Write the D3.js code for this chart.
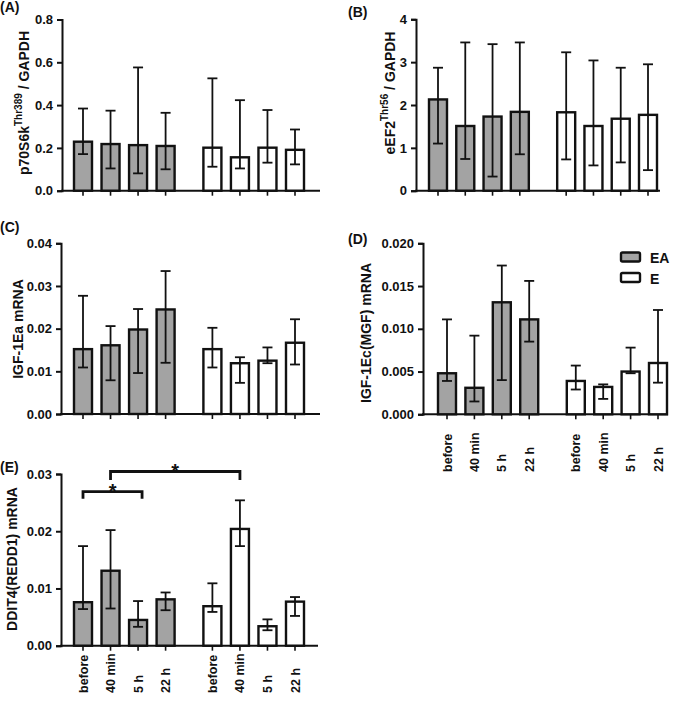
<!DOCTYPE html>
<html>
<head>
<meta charset="utf-8">
<script src="https://cdn.jsdelivr.net/npm/d3@7/dist/d3.min.js"></script>
<style>
  body { margin: 0; background: #fff; }
  svg { display: block; }
  text { font-family: "Liberation Sans", Arial, sans-serif; font-weight: bold; fill: #111; }
</style>
</head>
<body>
<svg id="chart" width="685" height="703"></svg>
<script>
// ---------------- DATA ----------------
const timepoints = ["before", "40 min", "5 h", "22 h"];
const groups = ["EA", "E"];

// Panel A: p70S6k Thr389 / GAPDH
const A_EA_mean = [0.229, 0.218, 0.213, 0.209];
const A_EA_lo   = [0.171, 0.104, 0.081, 0.100];
const A_EA_hi   = [0.384, 0.374, 0.576, 0.364];
const A_E_mean  = [0.201, 0.156, 0.201, 0.191];
const A_E_lo    = [0.112, 0.104, 0.131, 0.123];
const A_E_hi    = [0.525, 0.423, 0.377, 0.286];
const A_ticks   = [0, 0.2, 0.4, 0.6, 0.8];

// Panel B: eEF2 Thr56 / GAPDH
const B_EA_mean = [2.13, 1.51, 1.73, 1.84];
const B_EA_lo   = [1.10, 0.74, 0.33, 0.85];
const B_EA_hi   = [2.87, 3.46, 3.42, 3.46];
const B_E_mean  = [1.83, 1.51, 1.68, 1.77];
const B_E_lo    = [0.73, 0.59, 0.66, 0.48];
const B_E_hi    = [3.23, 3.04, 2.87, 2.95];
const B_ticks   = [0, 1, 2, 3, 4];

// Panel C: IGF-1Ea mRNA
const C_EA_mean = [0.0152, 0.0161, 0.0198, 0.0245];
const C_EA_lo   = [0.0109, 0.0079, 0.0096, 0.0120];
const C_EA_hi   = [0.0277, 0.0206, 0.0246, 0.0335];
const C_E_mean  = [0.0152, 0.0119, 0.0125, 0.0167];
const C_E_lo    = [0.0109, 0.0073, 0.0119, 0.0116];
const C_E_hi    = [0.0202, 0.0133, 0.0156, 0.0222];
const C_ticks   = [0, 0.01, 0.02, 0.03, 0.04];

// Panel D: IGF-1Ec(MGF) mRNA
const D_EA_mean = [0.0048, 0.0031, 0.0131, 0.0111];
const D_EA_lo   = [0.0039, 0.0015, 0.0040, 0.0085];
const D_EA_hi   = [0.0111, 0.0092, 0.0174, 0.0156];
const D_E_mean  = [0.0039, 0.0032, 0.0050, 0.0060];
const D_E_lo    = [0.0029, 0.0018, 0.0048, 0.0037];
const D_E_hi    = [0.0057, 0.0035, 0.0078, 0.0122];
const D_ticks   = [0, 0.005, 0.010, 0.015, 0.020];

// Panel E: DDIT4(REDD1) mRNA
const E_EA_mean = [0.0076, 0.0131, 0.0045, 0.0081];
const E_EA_lo   = [0.0064, 0.0065, 0.0033, 0.0062];
const E_EA_hi   = [0.0174, 0.0202, 0.0078, 0.0093];
const E_E_mean  = [0.0069, 0.0204, 0.0034, 0.0077];
const E_E_lo    = [0.0059, 0.0174, 0.0027, 0.0052];
const E_E_hi    = [0.0109, 0.0254, 0.0046, 0.0085];
const E_ticks   = [0, 0.01, 0.02, 0.03];

// significance brackets in panel E: [group, index] pairs
const E_sig = [
  { from: ["EA", 0], to: ["EA", 2], label: "*" },
  { from: ["EA", 1], to: ["E", 1], label: "*" }
];

// ---------------- LAYOUT ----------------
const svg = d3.select("#chart");
const GRAY = "#a3a3a3";
const slotPos = { EA: [0, 1, 2, 3], E: [4.7, 5.7, 6.7, 7.7] };

const panels = [
  { id: "(A)", letter: [0, 12], axisX: 62, yTop: 19.5, yBot: 190.7, x0: 83, x1: 295, xEnd: 320,
    domain: [0, 0.8], ticks: A_ticks, fmt: d3.format(".1f"),
    data: { EA: [A_EA_mean, A_EA_lo, A_EA_hi], E: [A_E_mean, A_E_lo, A_E_hi] },
    title: { x: 29, y: 103, parts: [["p70S6k", false], ["Thr389", true], [" / GAPDH", false]] } },
  { id: "(B)", letter: [348, 17], axisX: 416, yTop: 19.3, yBot: 190.7, x0: 438, x1: 648, xEnd: 660,
    domain: [0, 4], ticks: B_ticks, fmt: d3.format("d"),
    data: { EA: [B_EA_mean, B_EA_lo, B_EA_hi], E: [B_E_mean, B_E_lo, B_E_hi] },
    title: { x: 395, y: 93, parts: [["eEF2", false], ["Thr56", true], [" / GAPDH", false]] } },
  { id: "(C)", letter: [0, 231.5], axisX: 61, yTop: 243.3, yBot: 414, x0: 83, x1: 295, xEnd: 320,
    domain: [0, 0.04], ticks: C_ticks, fmt: d3.format(".2f"),
    data: { EA: [C_EA_mean, C_EA_lo, C_EA_hi], E: [C_E_mean, C_E_lo, C_E_hi] },
    title: { x: 23, y: 329, parts: [["IGF-1Ea mRNA", false]] } },
  { id: "(D)", letter: [348, 244], axisX: 423, yTop: 243.3, yBot: 414.3, x0: 447, x1: 658, xEnd: 668,
    domain: [0, 0.02], ticks: D_ticks, fmt: d3.format(".3f"),
    data: { EA: [D_EA_mean, D_EA_lo, D_EA_hi], E: [D_E_mean, D_E_lo, D_E_hi] },
    title: { x: 371, y: 333, parts: [["IGF-1Ec(MGF) mRNA", false]] },
    xLabels: 472, legend: true },
  { id: "(E)", letter: [0, 471.5], axisX: 61, yTop: 474, yBot: 645.7, x0: 83, x1: 295, xEnd: 318,
    domain: [0, 0.03], ticks: E_ticks, fmt: d3.format(".2f"),
    data: { EA: [E_EA_mean, E_EA_lo, E_EA_hi], E: [E_E_mean, E_E_lo, E_E_hi] },
    title: { x: 17, y: 559, parts: [["DDIT4(REDD1) mRNA", false]] },
    xLabels: 693, sig: E_sig }
];

const BAR_W = 18, CAP_W = 10;

panels.forEach(p => {
  const g = svg.append("g");
  const y = d3.scaleLinear().domain(p.domain).range([p.yBot, p.yTop]);
  const x = d3.scaleLinear().domain([0, 7.7]).range([p.x0, p.x1]);

  // panel letter
  g.append("text").attr("x", p.letter[0]).attr("y", p.letter[1])
    .attr("font-size", 14).text(p.id);

  // y axis
  const yAxis = d3.axisLeft(y).tickValues(p.ticks).tickFormat(p.fmt).tickSizeOuter(0).tickSize(5).tickPadding(4);
  const ya = g.append("g").attr("transform", `translate(${p.axisX},0)`).call(yAxis);
  ya.select(".domain").attr("stroke", "#111").attr("stroke-width", 2);
  ya.selectAll(".tick line").attr("stroke", "#111").attr("stroke-width", 2);
  ya.selectAll(".tick text").attr("font-size", 13).attr("font-weight", "bold")
    .attr("font-family", "Liberation Sans, Arial, sans-serif").attr("fill", "#111");

  // x axis line
  g.append("line").attr("x1", p.axisX - 1).attr("x2", p.xEnd)
    .attr("y1", p.yBot).attr("y2", p.yBot).attr("stroke", "#111").attr("stroke-width", 2);

  // title
  const t = g.append("text")
    .attr("transform", `translate(${p.title.x},${p.title.y}) rotate(-90)`)
    .attr("text-anchor", "middle").attr("font-size", 14);
  p.title.parts.forEach(([s, sup], k) => {
    const ts = t.append("tspan").text(s);
    if (sup) ts.attr("font-size", 10).attr("dy", -7);
    else if (k > 0) ts.attr("dy", 7);
  });

  // fills first
  const bars = [];
  groups.forEach(grp => {
    const [mean, lo, hi] = p.data[grp];
    timepoints.forEach((tp, i) => bars.push({ grp, i, cx: x(slotPos[grp][i]), mean: mean[i], lo: lo[i], hi: hi[i] }));
  });
  g.selectAll("rect.fill").data(bars).join("rect").attr("class", "fill")
    .attr("x", d => d.cx - BAR_W / 2).attr("y", d => y(d.mean))
    .attr("width", BAR_W).attr("height", d => y(0) - y(d.mean))
    .attr("fill", d => d.grp === "EA" ? GRAY : "#fff");
  bars.forEach(d => {
    g.append("line").attr("x1", d.cx).attr("x2", d.cx).attr("y1", p.yBot).attr("y2", p.yBot + 5)
      .attr("stroke", "#111").attr("stroke-width", 1.6);
    g.append("line").attr("x1", d.cx).attr("x2", d.cx).attr("y1", y(d.hi)).attr("y2", y(d.lo))
      .attr("stroke", "#111").attr("stroke-width", 1.8);
    [d.hi, d.lo].forEach(v => {
      g.append("line").attr("x1", d.cx - CAP_W / 2).attr("x2", d.cx + CAP_W / 2)
        .attr("y1", y(v)).attr("y2", y(v)).attr("stroke", "#111").attr("stroke-width", 1.8);
    });
  });
  g.selectAll("rect.outline").data(bars).join("rect").attr("class", "outline")
    .attr("x", d => d.cx - BAR_W / 2).attr("y", d => y(d.mean))
    .attr("width", BAR_W).attr("height", d => y(0) - y(d.mean))
    .attr("fill", "none").attr("stroke", "#111").attr("stroke-width", 2.4);

  // x labels
  if (p.xLabels) {
    bars.forEach(d => {
      g.append("text").attr("transform", `translate(${d.cx + 4.5},${p.xLabels}) rotate(-90)`)
        .attr("text-anchor", "start").attr("font-size", 12.5).text(timepoints[d.i]);
    });
  }

  // legend
  if (p.legend) {
    const items = [["EA", GRAY, 252.5, 263], ["E", "#fff", 273, 283.5]];
    items.forEach(([lab, col, ry, ty]) => {
      g.append("rect").attr("x", 621).attr("y", ry).attr("width", 19).attr("height", 9)
        .attr("fill", col).attr("stroke", "#111").attr("stroke-width", 2.4).attr("rx", 1.5);
      g.append("text").attr("x", 650).attr("y", ty).attr("font-size", 14).text(lab);
    });
  }

  // significance brackets
  if (p.sig) {
    const levels = [{ yb: 491.7, drop: 7, dx: 4 }, { yb: 471.5, drop: 8.5, dx: 0 }];
    p.sig.forEach((s, k) => {
      const xa = x(slotPos[s.from[0]][s.from[1]]);
      const xb = x(slotPos[s.to[0]][s.to[1]]) + levels[k].dx;
      const yb = levels[k].yb, dd = levels[k].drop;
      g.append("path").attr("d", `M${xa},${yb + dd}V${yb}H${xb}V${yb + dd}`)
        .attr("fill", "none").attr("stroke", "#111").attr("stroke-width", 2.8);
      g.append("text").attr("x", (xa + xb) / 2).attr("y", yb + 6)
        .attr("text-anchor", "middle").attr("font-size", 20).text(s.label);
    });
  }
});
</script>
</body>
</html>
